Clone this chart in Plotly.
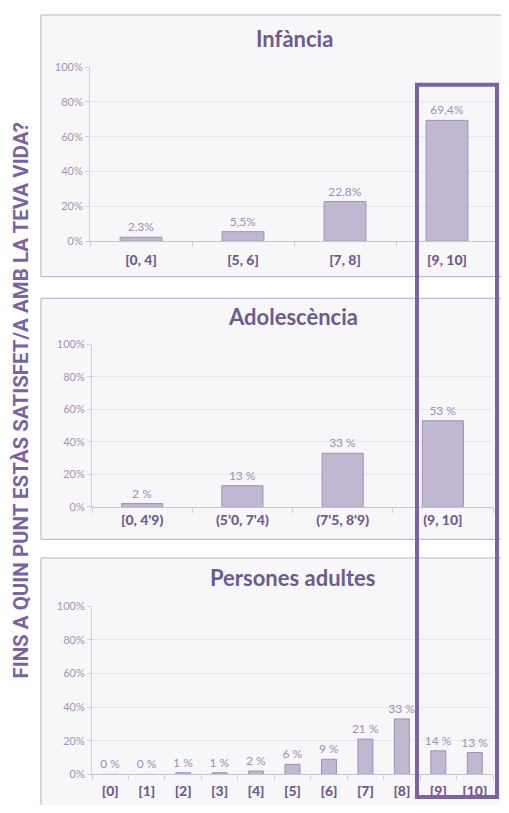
import plotly.graph_objects as go

# finestra 509x813; el body de la pàgina té 8px de marge
WIN_W, WIN_H = 509, 813
OFF = 8
W, H = WIN_W - 2 * OFF, WIN_H - 2 * OFF

# --- dades ---
infancia_cat = ["[0, 4]", "[5, 6]", "[7, 8]", "[9, 10]"]
infancia_val = [2.3, 5.5, 22.8, 69.4]
infancia_txt = ["2,3%", "5,5%", "22,8%", "69,4%"]

adolescencia_cat = ["[0, 4'9)", "(5'0, 7'4)", "(7'5, 8'9)", "(9, 10]"]
adolescencia_val = [2, 13, 33, 53]
adolescencia_txt = ["2 %", "13 %", "33 %", "53 %"]

adults_cat = ["[0]", "[1]", "[2]", "[3]", "[4]", "[5]", "[6]", "[7]", "[8]", "[9]", "[10]"]
adults_val = [0, 0, 1, 1, 2, 6, 9, 21, 33, 14, 13]
adults_txt = ["0 %", "0 %", "1 %", "1 %", "2 %", "6 %", "9 %", "21 %", "33 %", "14 %", "13 %"]

titols = ["Infància", "Adolescència", "Persones adultes"]
pregunta = "FINS A QUIN PUNT ESTÀS SATISFET/A AMB LA TEVA VIDA?"

_FONT = "Lato, Open Sans, sans-serif"
_BAR = "#c1b7d1"
_BAR_LINE = "#9d8fb6"
_LABEL = "#9b8fb2"
_TICK = "#705c91"
_TITLE = "#6e5a8f"
_HIGHLIGHT = "#7d62a3"


def px_x(v):
    return (v - OFF) / W


def px_y(v):
    return 1 - (v - OFF) / H


# panells: caixa (x0,y0,x1,y1), zona del gràfic (x0,y0,x1,y1) en píxels de finestra,
# i separació extra de les etiquetes de l'eix x
panells = [
    ((41, 8, 515, 274), (90, 61, 498, 238), 6),
    ((41, 296, 515, 541), (92, 343, 493, 508), 0),
    ((41, 560, 515, 830), (92, 609, 493, 780), 4),
]

series = [
    (infancia_cat, infancia_val, infancia_txt),
    (adolescencia_cat, adolescencia_val, adolescencia_txt),
    (adults_cat, adults_val, adults_txt),
]

fig = go.Figure()
layout = dict(
    width=W, height=H,
    margin=dict(l=0, r=0, t=0, b=0),
    paper_bgcolor="white",
    plot_bgcolor="rgba(0,0,0,0)",
    showlegend=False,
    bargap=0.59,
    font=dict(family=_FONT),
    uniformtext=dict(minsize=12, mode="show"),
)
shapes = []
annotations = []

for i, ((cat, val, txt), (caixa, zona, standoff), titol) in enumerate(zip(series, panells, titols)):
    n = "" if i == 0 else str(i + 1)
    fig.add_trace(go.Bar(
        x=cat, y=val, text=txt,
        textposition="outside",
        textfont=dict(size=12, color=_LABEL, family=_FONT),
        cliponaxis=False,
        marker=dict(color=_BAR, line=dict(color=_BAR_LINE, width=1)),
        xaxis="x" + n, yaxis="y" + n,
        hoverinfo="skip",
    ))
    layout["xaxis" + n] = dict(
        domain=[px_x(zona[0]), px_x(zona[2])],
        anchor="y" + n,
        type="category",
        categoryorder="array", categoryarray=cat,
        showline=True, linecolor="#c9c1d6", linewidth=1,
        ticks="outside", tickson="boundaries", ticklen=5, tickcolor="#d3cddd",
        ticklabelstandoff=standoff,
        tickfont=dict(size=14, color=_TICK, family=_FONT, weight=900),
        showgrid=False,
        fixedrange=True,
    )
    layout["yaxis" + n] = dict(
        domain=[px_y(zona[3]), px_y(zona[1])],
        anchor="x" + n,
        range=[0, 100], dtick=20, ticksuffix="%",
        showline=True, linecolor="#d3cddd", linewidth=1,
        ticks="outside", ticklen=4, tickcolor="#d3cddd",
        tickfont=dict(size=11, color="#9f93b5"),
        gridcolor="#e9e6ef", gridwidth=1,
        zeroline=False,
        fixedrange=True,
    )
    shapes.append(dict(
        type="rect", xref="paper", yref="paper", layer="below",
        x0=px_x(caixa[0]), x1=px_x(caixa[2]), y0=px_y(caixa[3]), y1=px_y(caixa[1]),
        fillcolor="#f7f7fa", line=dict(color="#b7acce", width=1),
    ))
    annotations.append(dict(
        text=titol, xref="paper", yref="paper",
        x=px_x((zona[0] + zona[2]) / 2), y=px_y(zona[1] - 29),
        showarrow=False, xanchor="center", yanchor="middle",
        font=dict(size=22, color=_TITLE, family=_FONT, weight="bold"),
    ))

# rectangle destacat de la darrera franja
shapes.append(dict(
    type="rect", xref="paper", yref="paper", layer="above",
    x0=px_x(417), x1=px_x(497), y0=px_y(803), y1=px_y(79),
    line=dict(color=_HIGHLIGHT, width=4),
))

annotations.append(dict(
    text=pregunta, xref="paper", yref="paper",
    x=px_x(21), y=px_y(400), textangle=-90,
    showarrow=False, xanchor="center", yanchor="middle",
    font=dict(size=20.5, color=_HIGHLIGHT, family="Liberation Sans Narrow, Roboto, sans-serif", weight="bold"),
))

layout["shapes"] = shapes
layout["annotations"] = annotations
fig.update_layout(**layout)

fig.write_html("out.html")
